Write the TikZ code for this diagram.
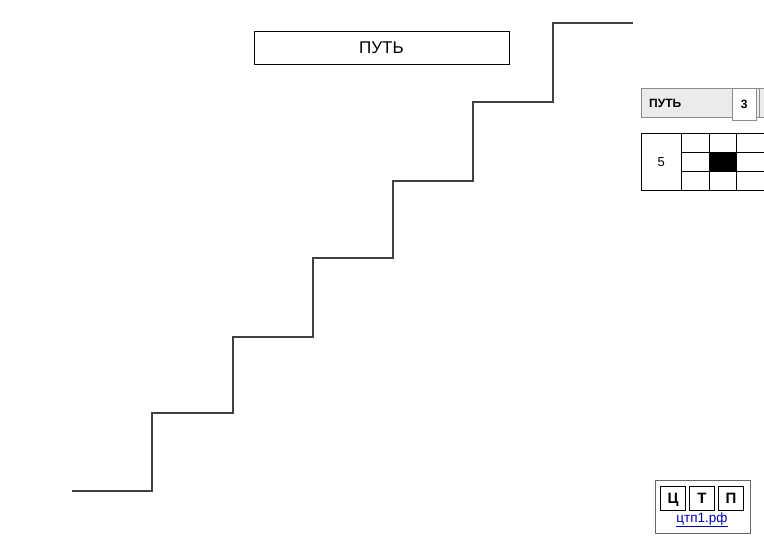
\documentclass[tikz,border=0pt]{standalone}
\usepackage{fontspec}
\setmainfont{Liberation Sans}
\begin{document}
\begin{tikzpicture}[x=1pt,y=-1pt]
\useasboundingbox (0,0) rectangle (764,540);
\tikzstyle{cell}=[draw,thin,inner sep=0pt,minimum width=27.5pt,minimum height=19pt]
\tikzstyle{letter}=[draw,thick,inner sep=0pt,minimum width=25pt,minimum height=24pt,text height=11pt,text depth=0pt,font=\bfseries\fontsize{15}{15}\selectfont]
% titre
\node[draw,thin,minimum width=255pt,minimum height=33pt,inner sep=0pt,font=\fontsize{17}{17}\selectfont] (titre) at (381.5,47.5) {ПУТЬ};
% escalier
\draw[line width=1.8pt,black!75] (72,491) -- (152,491) -- (152,413) -- (233,413) -- (233,337)
-- (313,337) -- (313,258) -- (393,258) -- (393,181) -- (473,181) -- (473,102)
-- (553,102) -- (553,23) -- (633,23);
% panneau
\node[draw=black!45,fill=black!8,minimum width=130pt,minimum height=29pt,inner sep=0pt,anchor=north west] (nom) at (641,88.5) {};
\node[anchor=west,inner sep=0pt,font=\bfseries\fontsize{12}{12}\selectfont] (nomtxt) at (649,103) {ПУТЬ};
\node[draw=black!45,fill=white,minimum width=24pt,minimum height=32pt,inner sep=0pt,anchor=north west,font=\bfseries\fontsize{12}{12}\selectfont] (num) at (732,88.5) {3};
\draw[black!45] (759,88.5) -- (759,118);
\node[draw,thin,minimum width=40pt,minimum height=57pt,inner sep=0pt,anchor=north west,font=\fontsize{13}{13}\selectfont] (cinq) at (641,133) {5};
\node[cell,anchor=north west] (c11) at (681,133) {};
\node[cell,anchor=north west] (c12) at (708.5,133) {};
\node[cell,anchor=north west] (c13) at (736,133) {};
\node[cell,anchor=north west] (c21) at (681,152) {};
\node[cell,anchor=north west,fill=black] (c22) at (708.5,152) {};
\node[cell,anchor=north west] (c23) at (736,152) {};
\node[cell,anchor=north west] (c31) at (681,171) {};
\node[cell,anchor=north west] (c32) at (708.5,171) {};
\node[cell,anchor=north west] (c33) at (736,171) {};
% logo
\node[draw=black!60,thin,minimum width=95pt,minimum height=53pt,inner sep=0pt,anchor=north west] (logo) at (655,480) {};
\node[letter] (ts) at (673,498) {Ц};
\node[letter] (te) at (702,498) {Т};
\node[letter] (pe) at (731,498) {П};
\node[text=blue!70!black,font=\fontsize{13.5}{13.5}\selectfont] (lien) at (702,520) {\underline{цтп1.рф}};
\end{tikzpicture}
\end{document}
